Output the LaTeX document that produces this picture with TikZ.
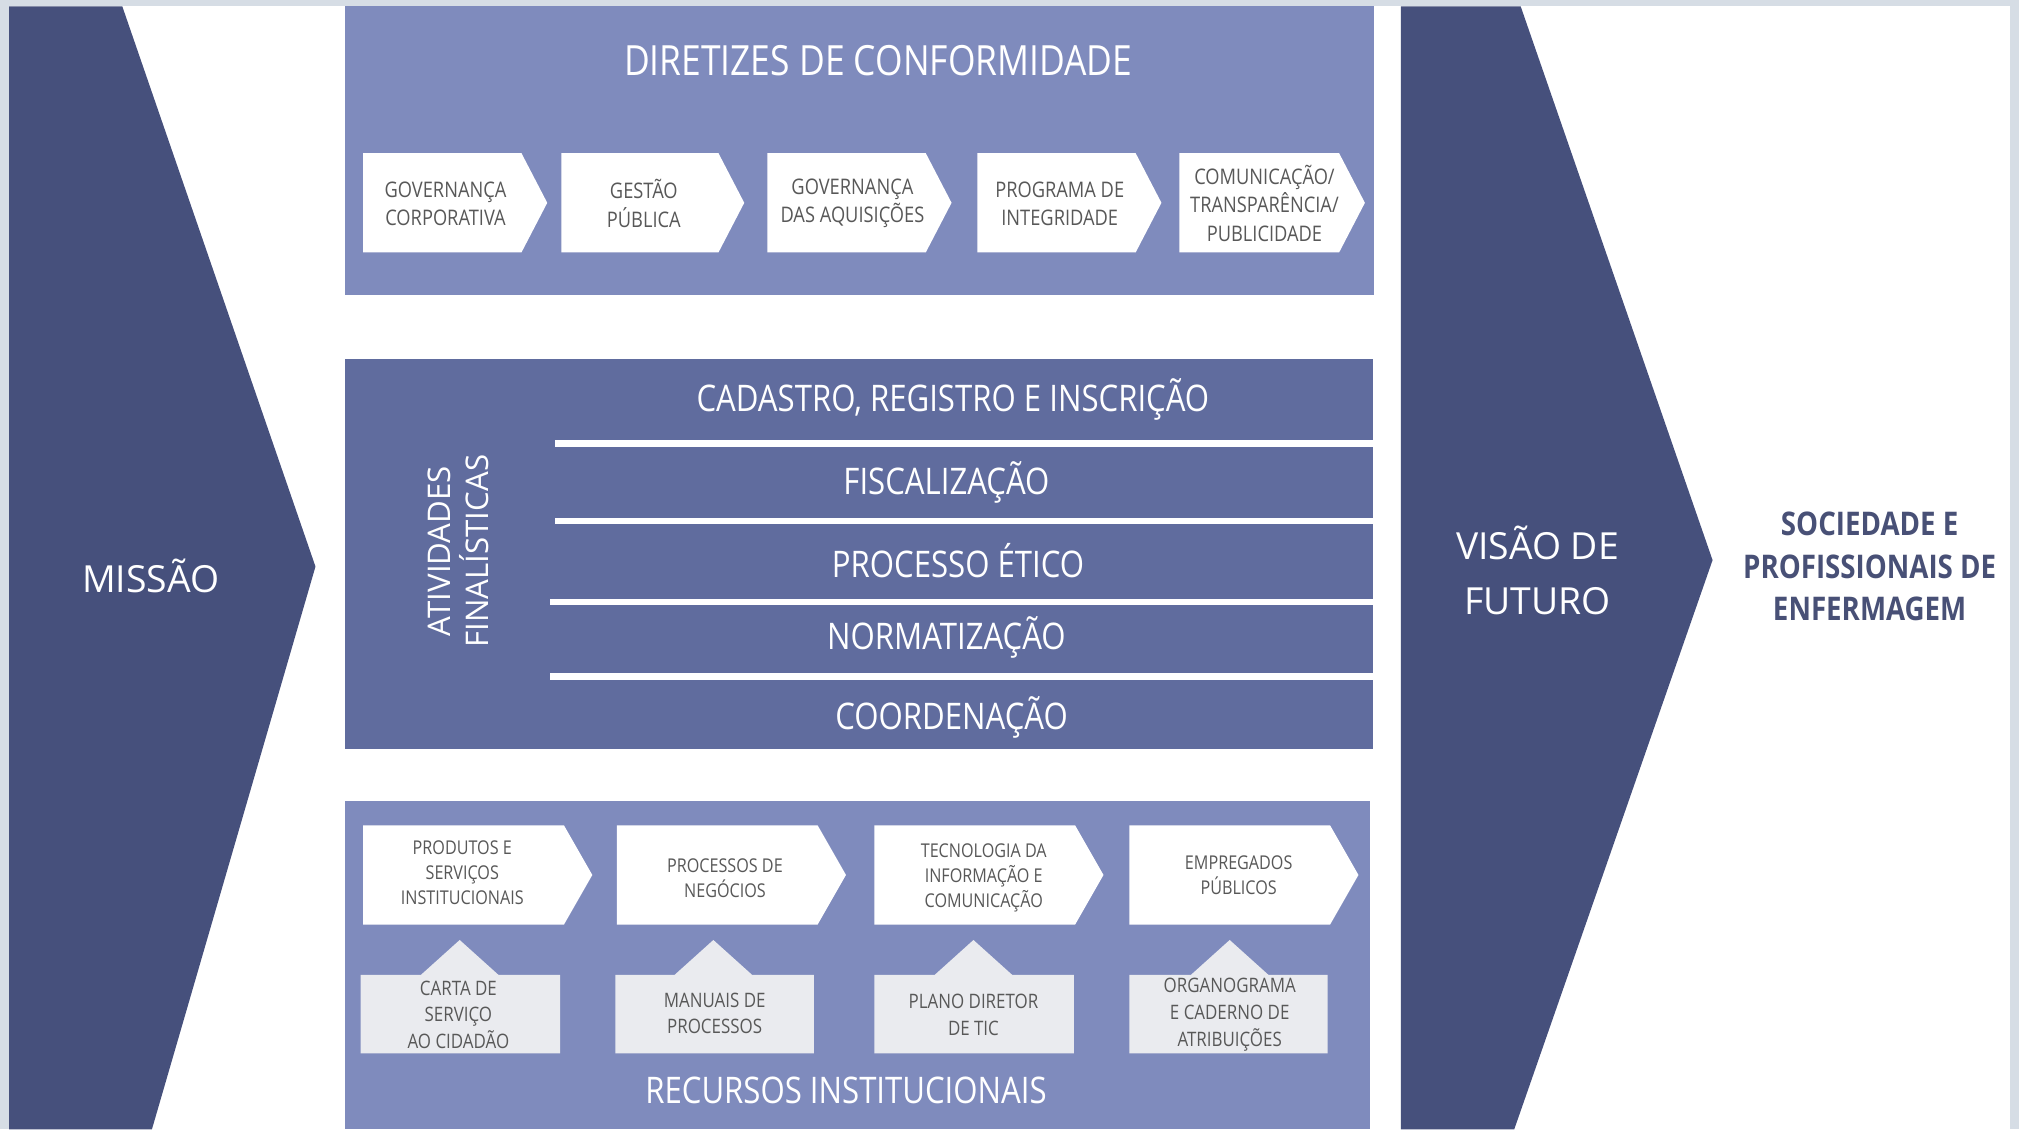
\documentclass[tikz,border=0pt]{standalone}
\usepackage{fontspec}
\setmainfont{Open Sans}
\newfontfamily\condf[FakeStretch=0.85]{Open Sans}
\definecolor{edgegray}{RGB}{214,221,229}
\definecolor{navy}{RGB}{70,80,124}
\definecolor{peri}{RGB}{127,139,189}
\definecolor{midblue}{RGB}{96,108,158}
\definecolor{boxtext}{RGB}{88,88,88}
\definecolor{paleg}{RGB}{234,235,239}
\definecolor{socblue}{RGB}{72,80,118}
\newcommand{\chevbox}[5]{%
  \fill[white] (#1,#3) -- ({#2-#5},#3) -- (#2,{(#3+#4)/2}) -- ({#2-#5},#4) -- (#1,#4) -- cycle;}
\newcommand{\tagbox}[3]{% x1, x2, peak x
  \fill[paleg] (#1,757) -- ({#3-30},757) -- (#3,730) -- ({#3+30},757) -- (#2,757) -- (#2,818) -- (#1,818) -- cycle;}
\tikzset{
  titletxt/.style={text=white, inner sep=0pt, font=\condf\fontsize{18.4}{21}\selectfont},
  rowtxt/.style={text=white, inner sep=0pt, font=\condf\fontsize{16.2}{19}\selectfont},
  smalltxt/.style={text=boxtext, align=center, inner sep=0pt, font=\condf\fontsize{9.5}{12.5}\selectfont},
  tinytxt/.style={text=boxtext, align=center, inner sep=0pt, font=\condf\fontsize{8.4}{11}\selectfont},
  tagtxt/.style={text=boxtext, align=center, inner sep=0pt, font=\condf\fontsize{8.8}{11.8}\selectfont},
  bigtxt/.style={text=white, align=center, inner sep=0pt, font=\fontsize{16.5}{24.4}\selectfont},
  sidetxt/.style={text=white, align=center, inner sep=0pt, rotate=90, font=\fontsize{13.8}{16.5}\selectfont},
  soctxt/.style={text=socblue, align=center, inner sep=0pt, font=\condf\bfseries\fontsize{14.4}{18.7}\selectfont},
}
\begin{document}
\begin{tikzpicture}[x=0.02cm,y=-0.02cm]
\useasboundingbox (0,0) rectangle (1568,877);
\fill[edgegray] (0,0) rectangle (1568,877);
\fill[white] (7,5) rectangle (1561,877);
% Missao chevron
\fill[navy] (7,5) -- (95,5) -- (245,440) -- (118,877) -- (7,877) -- cycle;
\node[bigtxt] (missao) at (117,447) {MISSÃO};
% Visao chevron
\fill[navy] (1088,5) -- (1181,5) -- (1330,435) -- (1176,877) -- (1088,877) -- cycle;
\node[bigtxt] (visao) at (1194,443) {VISÃO DE\\FUTURO};
\node[soctxt] (soc) at (1452,440) {SOCIEDADE E\\PROFISSIONAIS DE\\ENFERMAGEM};
% Top box
\fill[peri] (268,5) rectangle (1067,229);
\node[titletxt] (dir) at (682,47) {DIRETIZES DE CONFORMIDADE};
\chevbox{282}{425}{119}{196}{20}
\chevbox{436}{578}{119}{196}{20}
\chevbox{596}{739}{119}{196}{20}
\chevbox{759}{902}{119}{196}{20}
\chevbox{916}{1060}{119}{196}{20}
\node[smalltxt] (d1) at (346,158) {GOVERNANÇA\\CORPORATIVA};
\node[smalltxt] (d2) at (500,158) {GESTÃO\\PÚBLICA};
\node[smalltxt] (d3) at (662,158) {GOVERNANÇA\\DAS AQUISIÇÕES};
\node[smalltxt] (d4) at (823,158) {PROGRAMA DE\\INTEGRIDADE};
\node[smalltxt] (d5) at (982,158) {COMUNICAÇÃO/\\TRANSPARÊNCIA/\\PUBLICIDADE};
% Middle box
\fill[midblue] (268,279) rectangle (1066,582);
\fill[white] (431,342) rectangle (1066,347);
\fill[white] (431,402) rectangle (1066,407);
\fill[white] (427,465) rectangle (1066,470);
\fill[white] (427,523) rectangle (1066,528);
\node[sidetxt] (ativ) at (356,428) {ATIVIDADES\\FINALÍSTICAS};
\node[rowtxt] (r1) at (740,310) {CADASTRO, REGISTRO E INSCRIÇÃO};
\node[rowtxt] (r2) at (735,375) {FISCALIZAÇÃO};
\node[rowtxt] (r3) at (744,435) {PROCESSO ÉTICO};
\node[rowtxt] (r4) at (735,495) {NORMATIZAÇÃO};
\node[rowtxt] (r5) at (739,557) {COORDENAÇÃO};
% Bottom box
\fill[peri] (268,622) rectangle (1064,877);
\chevbox{282}{460}{641}{718}{22}
\chevbox{479}{657}{641}{718}{22}
\chevbox{679}{857}{641}{718}{22}
\chevbox{877}{1055}{641}{718}{22}
\node[tinytxt] (b1) at (359,678) {PRODUTOS E\\SERVIÇOS\\INSTITUCIONAIS};
\node[tinytxt] (b2) at (563,682) {PROCESSOS DE\\NEGÓCIOS};
\node[tinytxt] (b3) at (764,682) {TECNOLOGIA DA\\INFORMAÇÃO E\\COMUNICAÇÃO};
\node[tinytxt] (b4) at (962,680) {EMPREGADOS\\PÚBLICOS};
\tagbox{280}{435}{357}
\tagbox{478}{632}{554}
\tagbox{679}{834}{756}
\tagbox{877}{1031}{955}
\node[tagtxt] (c1) at (356,788) {CARTA DE\\SERVIÇO\\AO CIDADÃO};
\node[tagtxt] (c2) at (555,787) {MANUAIS DE\\PROCESSOS};
\node[tagtxt] (c3) at (756,788) {PLANO DIRETOR\\DE TIC};
\node[tagtxt] (c4) at (955,788) {ORGANOGRAMA\\E CADERNO DE\\ATRIBUIÇÕES};
\node[rowtxt] (rec) at (657,847) {RECURSOS INSTITUCIONAIS};
\end{tikzpicture}
\end{document}
